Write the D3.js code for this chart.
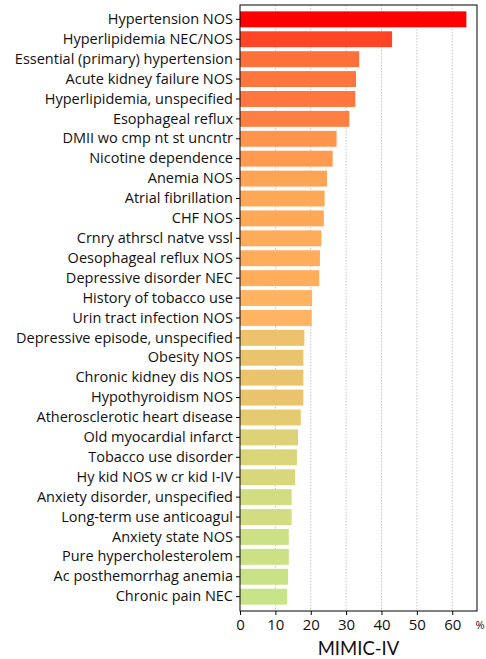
<!DOCTYPE html>
<html>
<head>
<meta charset="utf-8">
<script src="https://cdn.jsdelivr.net/npm/d3@7"></script>
<style>
  body { margin: 0; background: #fff; }
  text { font-family: "Open Sans", Lato, sans-serif; fill: #111; }
</style>
</head>
<body>
<div id="chart"></div>
<script>
// Top diagnoses in MIMIC-IV (% of patients)
const diagnoses = [
  "Hypertension NOS", "Hyperlipidemia NEC/NOS", "Essential (primary) hypertension",
  "Acute kidney failure NOS", "Hyperlipidemia, unspecified", "Esophageal reflux",
  "DMII wo cmp nt st uncntr", "Nicotine dependence", "Anemia NOS", "Atrial fibrillation",
  "CHF NOS", "Crnry athrscl natve vssl", "Oesophageal reflux NOS", "Depressive disorder NEC",
  "History of tobacco use", "Urin tract infection NOS", "Depressive episode, unspecified",
  "Obesity NOS", "Chronic kidney dis NOS", "Hypothyroidism NOS", "Atherosclerotic heart disease",
  "Old myocardial infarct", "Tobacco use disorder", "Hy kid NOS w cr kid I-IV",
  "Anxiety disorder, unspecified", "Long-term use anticoagul", "Anxiety state NOS",
  "Pure hypercholesterolem", "Ac posthemorrhag anemia", "Chronic pain NEC"
];
const percents = [
  64.0, 43.0, 33.7, 32.8, 32.6, 30.9, 27.3, 26.2, 24.6, 23.9,
  23.7, 23.0, 22.6, 22.4, 20.4, 20.3, 18.2, 17.9, 17.9, 17.9,
  17.2, 16.4, 16.1, 15.6, 14.6, 14.6, 13.8, 13.8, 13.6, 13.3
];
const xTicks = [0, 10, 20, 30, 40, 50, 60];

const width = 486;
const height = 659;
const margin = { top: 5, right: 9, bottom: 48, left: 240 };

const svg = d3.select("#chart").append("svg").attr("width", width).attr("height", height);

const x = d3.scaleLinear().domain([0, 67]).range([margin.left, width - margin.right]);
const y = d3.scaleBand().domain(diagnoses)
  .range([margin.top, height - margin.bottom])
  .paddingInner(0.2).paddingOuter(0.32);

const color = d3.scaleLinear()
  .domain([13.3, 14.6, 16.2, 17.9, 20.3, 23.5, 26.2, 31, 43, 64])
  .range(["#c8e488", "#d2dc80", "#dcd47a", "#e9c46d", "#ffb462", "#ffaa58", "#ff9a50", "#ff7e42", "#ff4525", "#ff0000"]);

// dotted grid
svg.append("g")
  .selectAll("line")
  .data(xTicks.filter((d) => d > 0))
  .join("line")
  .attr("x1", (d) => x(d)).attr("x2", (d) => x(d))
  .attr("y1", margin.top).attr("y2", height - margin.bottom)
  .attr("stroke", "#b8b8b8").attr("stroke-width", 0.8)
  .attr("stroke-dasharray", "1.5,1.5");

svg.append("g")
  .selectAll("rect")
  .data(diagnoses)
  .join("rect")
  .attr("x", x(0))
  .attr("y", (d) => y(d))
  .attr("width", (d, i) => x(percents[i]) - x(0))
  .attr("height", y.bandwidth())
  .attr("fill", (d, i) => color(percents[i]));

// frame
svg.append("rect")
  .attr("x", margin.left).attr("y", margin.top)
  .attr("width", width - margin.right - margin.left)
  .attr("height", height - margin.bottom - margin.top)
  .attr("fill", "none").attr("stroke", "#000").attr("stroke-width", 1);

const yAxis = svg.append("g")
  .attr("transform", `translate(${margin.left},0)`)
  .call(d3.axisLeft(y).tickSize(4).tickPadding(3));
yAxis.select(".domain").remove();
yAxis.selectAll("text").style("font-size", "14.5px");

const xAxis = svg.append("g")
  .attr("transform", `translate(0,${height - margin.bottom})`)
  .call(d3.axisBottom(x).tickValues(xTicks).tickSize(4).tickPadding(4));
xAxis.select(".domain").remove();
xAxis.selectAll("text").style("font-size", "15px");

svg.append("text")
  .attr("x", 480).attr("y", 629)
  .attr("text-anchor", "middle")
  .style("font-size", "11px")
  .text("%");

svg.append("text")
  .attr("x", (x(0) + x(67)) / 2).attr("y", 655)
  .attr("text-anchor", "middle")
  .style("font-family", "Lato, sans-serif")
  .style("font-size", "18.5px")
  .text("MIMIC-IV");
</script>
</body>
</html>
